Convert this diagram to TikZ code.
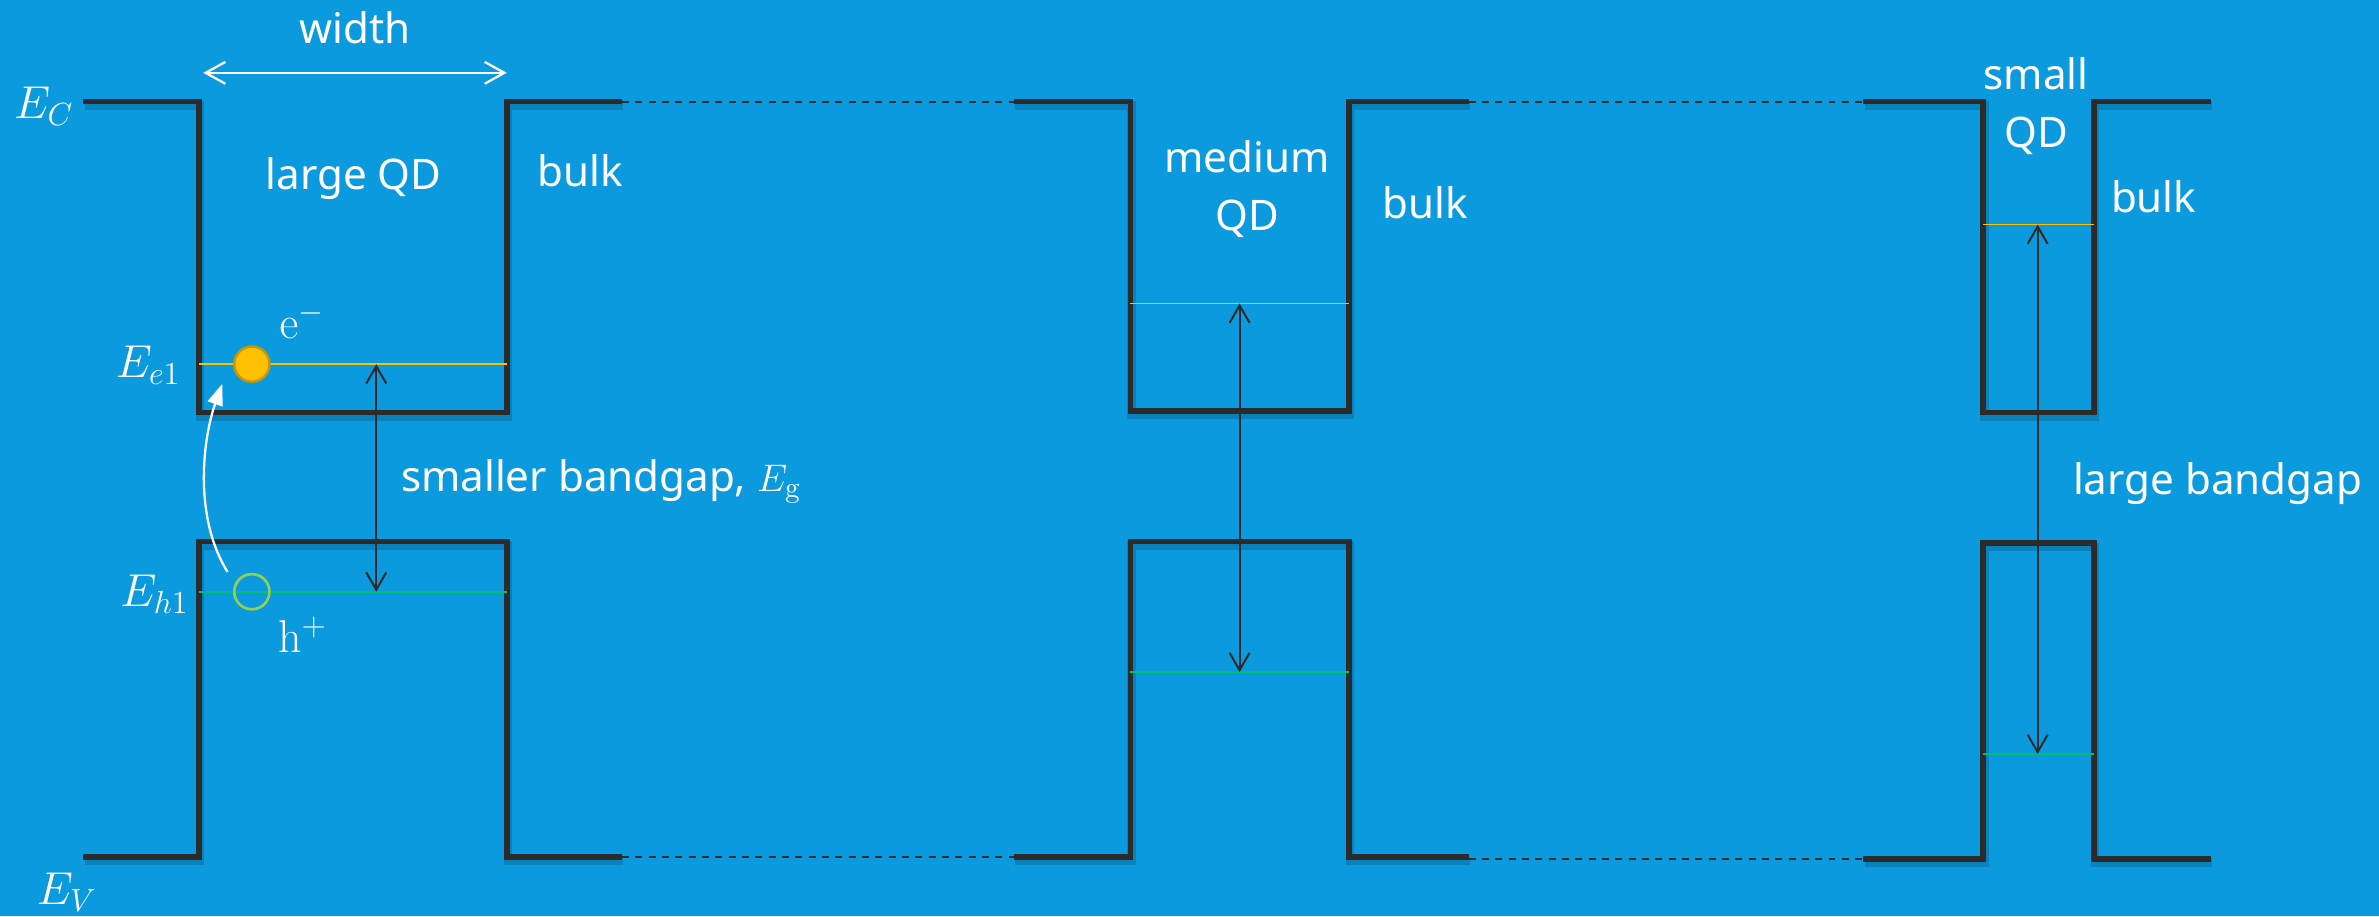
\documentclass[tikz,border=0pt]{standalone}
\usepackage[no-math]{fontspec}
\setmainfont{Noto Sans}
\usetikzlibrary{arrows.meta}
\definecolor{bg}{RGB}{11,154,222}
\definecolor{bandc}{RGB}{43,43,43}
\definecolor{elev}{RGB}{255,192,0}
\definecolor{hlev}{RGB}{0,192,112}
\definecolor{holec}{RGB}{146,208,80}
\definecolor{eedge}{RGB}{205,150,0}
\begin{document}
\begin{tikzpicture}[x=0.02cm,y=-0.02cm,
  band/.style={draw=bandc, line width=2.1pt, line join=miter,
    preaction={draw=black, opacity=0.16, line width=3.2pt,
      transform canvas={shift={(0.5pt,-1.4pt)}}}},
  link/.style={draw=bandc, line width=0.65pt, dash pattern=on 2.6pt off 2.4pt},
  elevel/.style={draw=elev, line width=0.7pt},
  hlevel/.style={draw=hlev, line width=0.7pt},
  gap/.style={draw=bandc, line width=0.75pt,
    {Straight Barb[length=6.5pt,width=7.5pt]}-{Straight Barb[length=6.5pt,width=7.5pt]}},
  lbl/.style={text=white, inner sep=0pt, font=\fontsize{15.8}{21.5}\selectfont},
  mlbl/.style={text=white, inner sep=0pt, font=\fontsize{17.2}{20}\selectfont},
  electron/.style={circle, draw=eedge, fill=elev, line width=0.9pt, minimum size=13.2pt, inner sep=0pt},
  hole/.style={circle, draw=holec, line width=1pt, minimum size=13.2pt, inner sep=0pt},
]
\fill[bg] (0,0) rectangle (1568,604);
\useasboundingbox (0,0) rectangle (1568,604);

% ---- large quantum dot ----
\draw[band] (55,67) -- (131,67) -- (131,272) -- (334,272) -- (334,67) -- (410,67);
\draw[band] (55,565) -- (131,565) -- (131,357) -- (334,357) -- (334,565) -- (410,565);
\draw[elevel] (131,240) -- (334,240);
\draw[hlevel] (131,390) -- (334,390);
\coordinate (e1) at (248,240);
\coordinate (h1) at (248,390);
\draw[gap] (h1) -- (e1);
\node[electron] (el) at (166,240) {};
\node[hole] (ho) at (166,390) {};
\draw[white, line width=0.85pt, -{Triangle[length=8pt,width=5.8pt]}]
  (150,377) .. controls (127,340) and (134,288) .. (146.5,253);
\coordinate (wl) at (134,48);
\coordinate (wr) at (334,48);
\draw[white, line width=0.85pt,
  {Straight Barb[length=7.4pt,width=8.2pt]}-{Straight Barb[length=7.4pt,width=8.2pt]}] (wl) -- (wr);

% dashed continuation of the band edges
\draw[link] (410,67) -- (668,67);
\draw[link] (410,565) -- (668,565);

% ---- medium quantum dot ----
\draw[band] (668,67) -- (745,67) -- (745,271) -- (889,271) -- (889,67) -- (968,67);
\draw[band] (668,565) -- (745,565) -- (745,357) -- (889,357) -- (889,565) -- (968,565);
\draw[elevel] (745,200) -- (889,200);
\draw[hlevel] (745,443) -- (889,443);
\coordinate (e2) at (817,200);
\coordinate (h2) at (817,443);
\draw[gap] (h2) -- (e2);

\draw[link] (968,67) -- (1228,67);
\draw[link] (968,566) -- (1228,566);

% ---- small quantum dot ----
\draw[band] (1228,67) -- (1307,67) -- (1307,272) -- (1380,272) -- (1380,67) -- (1457,67);
\draw[band] (1228,566) -- (1307,566) -- (1307,358) -- (1380,358) -- (1380,566) -- (1457,566);
\draw[elevel] (1307,148) -- (1380,148);
\draw[hlevel] (1307,497) -- (1380,497);
\coordinate (e3) at (1343,148);
\coordinate (h3) at (1343,497);
\draw[gap] (h3) -- (e3);

% ---- labels ----
\node[mlbl, anchor=base west] (EC) at (9,78) {$E_C$};
\node[mlbl, anchor=base west] (EV) at (24,596) {$E_V$};
\node[mlbl, anchor=base west] (Ee) at (76,249) {$E_{e1}$};
\node[mlbl, anchor=base west] (Eh) at (79,400) {$E_{h1}$};
\node[mlbl, anchor=base west] (em) at (184,223) {$\mathrm{e}^-$};
\node[mlbl, anchor=base west] (hp) at (183,430) {$\mathrm{h}^+$};

\node[lbl, anchor=base] (wd) at (234,29) {width};
\node[lbl, anchor=base] (lqd) at (233,125) {large QD};
\node[lbl, anchor=base west] (bk1) at (354,123) {bulk};
\node[lbl, anchor=base west] (sbg) at (264,324) {smaller bandgap, $E_\mathrm{g}$};

\node[lbl, anchor=base] (mq1) at (822,114) {medium};
\node[lbl, anchor=base] (mq2) at (822,152) {QD};
\node[lbl, anchor=base west] (bk2) at (911,144) {bulk};

\node[lbl, anchor=base] (sq1) at (1342,59) {small};
\node[lbl, anchor=base] (sq2) at (1342,97) {QD};
\node[lbl, anchor=base west] (bk3) at (1391,140) {bulk};
\node[lbl, anchor=base west] (lbg) at (1366,326) {large bandgap};
\end{tikzpicture}
\end{document}
